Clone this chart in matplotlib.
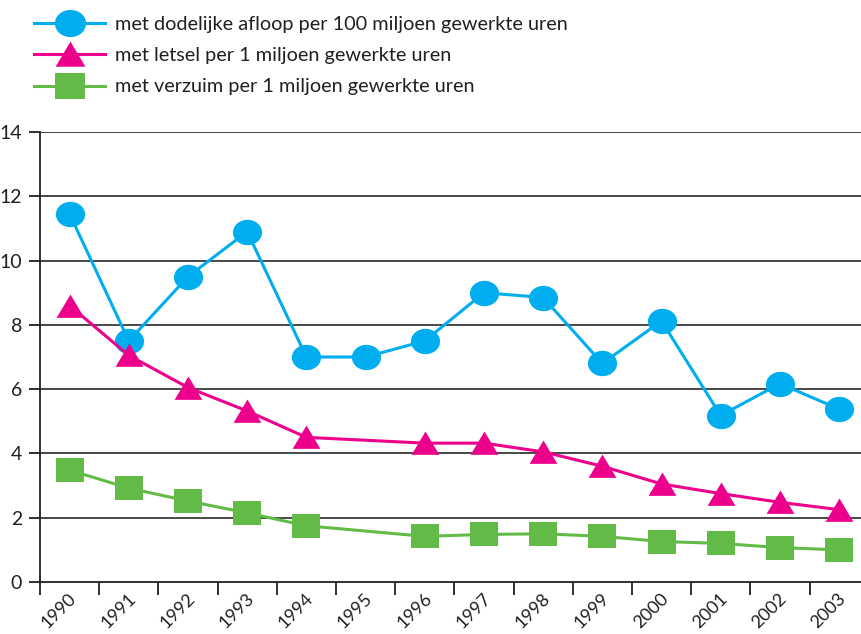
import numpy as np
import matplotlib
matplotlib.use('Agg')
import matplotlib.pyplot as plt
from matplotlib.path import Path
from matplotlib.transforms import ScaledTranslation

plt.rcParams['font.family'] = ['Lato', 'DejaVu Sans']

# Data (None = no value for that year)
years = ['1990', '1991', '1992', '1993', '1994', '1995', '1996',
         '1997', '1998', '1999', '2000', '2001', '2002', '2003']
dodelijk = [11.45, 7.5, 9.5, 10.9, 7.0, 7.0, 7.5, 9.0, 8.85, 6.8, 8.12, 5.18, 6.17, 5.38]
letsel = [8.6, 7.05, 6.05, 5.32, 4.5, None, 4.32, 4.32, 4.05, 3.6, 3.05, 2.75, 2.48, 2.25]
verzuim = [3.48, 2.92, 2.52, 2.15, 1.75, None, 1.42, 1.48, 1.5, 1.42, 1.26, 1.2, 1.07, 1.0]
labels = ['met dodelijke afloop per 100 miljoen gewerkte uren',
          'met letsel per 1 miljoen gewerkte uren',
          'met verzuim per 1 miljoen gewerkte uren']

blue = '#00AEEF'
magenta = '#EC008C'
green = '#62BB46'
textc = '#231F20'

# slightly wide markers, like in the original
t = np.linspace(0, 2 * np.pi, 60)
ellipse = Path(np.column_stack([1.15 * np.cos(t), np.sin(t)]))
tri = Path([(-1.1, -0.9), (1.1, -0.9), (0, 0.95), (-1.1, -0.9)])
rect = Path([(-1.15, -1), (1.15, -1), (1.15, 1), (-1.15, 1), (-1.15, -1)])

fig = plt.figure(figsize=(8.61, 6.34), dpi=100)
ax = fig.add_axes([40 / 861, 52 / 634, 821 / 861, 450 / 634])

series = [(dodelijk, blue, ellipse, 21), (letsel, magenta, tri, 20), (verzuim, green, rect, 20)]
handles = []
for (vals, col, mk, ms), lab in zip(series, labels):
    xs = [i for i, v in enumerate(vals) if v is not None]
    ys = [v for v in vals if v is not None]
    ax.plot(xs, ys, color=col, lw=2.2, marker=mk, markersize=ms,
            markeredgewidth=0, zorder=3)
    # bigger marker for the legend key
    h, = ax.plot([], [], color=col, lw=2.2, marker=mk, markersize=ms + 1.5,
                 markeredgewidth=0, label=lab)
    handles.append(h)

ax.set_yticks(range(0, 15, 2))
for y in range(2, 15, 2):
    ax.axhline(y, color='#3a3a3a', lw=1.3, zorder=1)

for s in ['top', 'right']:
    ax.spines[s].set_visible(False)
for s in ['left', 'bottom']:
    ax.spines[s].set_color('#231F20')
    ax.spines[s].set_linewidth(1.3)

ax.set_xticks(np.arange(-0.5, 13.6, 1))
ax.set_xticklabels([])
ax.set_xticks(range(len(years)), minor=True)
ax.set_xticklabels(years, minor=True, rotation=45, ha='right',
                   fontsize=13, color=textc)
ax.set_ylim(0, 14)
ax.set_xlim(-0.5, 13.37)
ax.tick_params(axis='x', which='minor', length=0, pad=6)
ax.tick_params(axis='x', which='major', length=9, width=1.3, color=textc)
ax.tick_params(axis='y', length=8, width=1.3, color=textc, labelsize=14,
               labelcolor=textc, pad=5)
off = ScaledTranslation(10 / 100, 0, fig.dpi_scale_trans)
for lbl in ax.get_xticklabels(minor=True):
    lbl.set_transform(lbl.get_transform() + off)

fig.legend(handles=handles, loc='upper left', bbox_to_anchor=(16 / 861, 1 + 2 / 634),
           frameon=False, fontsize=14.3, handlelength=3.6, handletextpad=0.5,
           labelspacing=0.72, numpoints=1, labelcolor=textc)

fig.savefig('out.png', dpi=100)
